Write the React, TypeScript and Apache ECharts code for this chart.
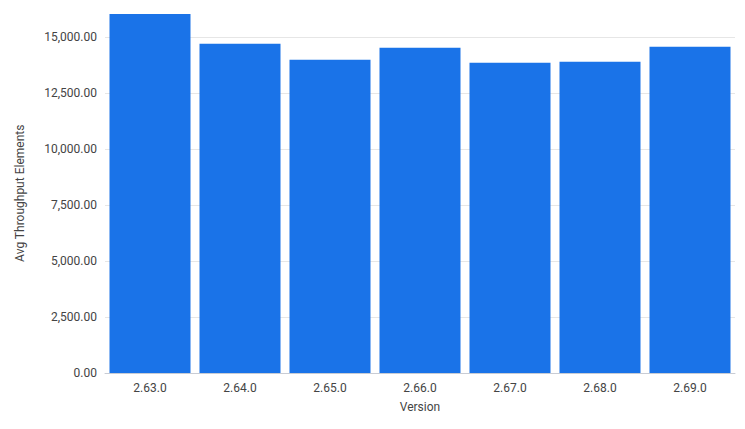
import React, { useEffect, useRef } from "react";
import * as echarts from "echarts";

const categories = ["2.63.0", "2.64.0", "2.65.0", "2.66.0", "2.67.0", "2.68.0", "2.69.0"];
const values = [16027, 14700, 13987, 14522, 13853, 13897, 14567];
const yTicks = [0, 2500, 5000, 7500, 10000, 12500, 15000];

export default function App() {
  const ref = useRef<HTMLDivElement>(null);
  useEffect(() => {
    const chart = echarts.init(ref.current!, null, { renderer: "svg" });
    chart.setOption({
      animation: false,
      grid: { left: 105, right: 10, top: 13.5, bottom: 56, containLabel: false },
      xAxis: {
        type: "category",
        data: categories,
        name: "Version",
        nameLocation: "middle",
        nameGap: 28,
        nameTextStyle: { fontFamily: "Roboto", fontSize: 12, color: "#444" },
        axisTick: { show: false },
        axisLine: { lineStyle: { color: "#c8ccd4", width: 1 } },
        axisLabel: { fontFamily: "Roboto", fontSize: 12, color: "#444", margin: 9 },
      },
      yAxis: {
        type: "value",
        min: 0,
        max: 16050,
        interval: 2500,
        name: "Avg Throughput Elements",
        nameLocation: "middle",
        nameGap: 79,
        nameTextStyle: { fontFamily: "Roboto", fontSize: 12, color: "#444" },
        axisLine: { show: false },
        axisTick: { show: false },
        splitLine: { showMaxLine: false, lineStyle: { color: "#e6e6e6", width: 1 } },
        axisLabel: {
          fontFamily: "Roboto",
          fontSize: 12,
          color: "#444",
          margin: 8,
          showMaxLabel: false,
          formatter: (v: number) =>
            yTicks.includes(v)
              ? v.toLocaleString("en-US", { minimumFractionDigits: 2, maximumFractionDigits: 2 })
              : "",
        },
      },
      series: [
        {
          type: "bar",
          data: values,
          barCategoryGap: "10%",
          itemStyle: { color: "#1a73e8" },
        },
      ],
    });
    return () => chart.dispose();
  }, []);
  return <div ref={ref} style={{ width: 745, height: 429, margin: -8 }} />;
}
